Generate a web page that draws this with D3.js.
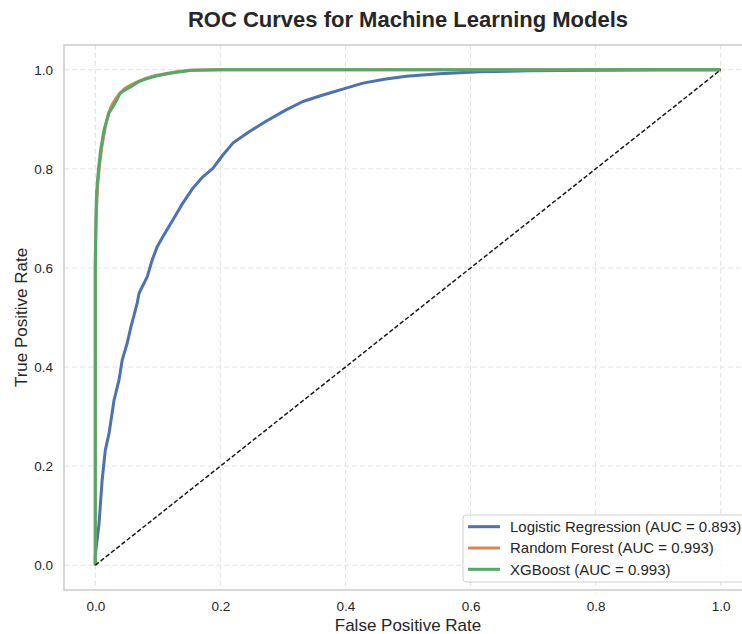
<!DOCTYPE html>
<html>
<head>
<meta charset="utf-8">
<script src="https://cdn.jsdelivr.net/npm/d3@7"></script>
<style>
body { margin: 0; background: #fff; }
text { font-family: "Liberation Sans", Arial, sans-serif; fill: #262626; }
</style>
</head>
<body>
<div id="chart"></div>
<script>
var width = 742;
var height = 634;

// values
var lrFpr = [0, 0.0, 0.006, 0.011, 0.016, 0.022, 0.030, 0.038, 0.043, 0.051, 0.057, 0.062, 0.067, 0.070, 0.083, 0.091, 0.099, 0.108, 0.124, 0.140, 0.156, 0.172, 0.188, 0.204, 0.220, 0.246, 0.273, 0.305, 0.332, 0.364, 0.401, 0.428, 0.462, 0.497, 0.550, 0.614, 0.694, 0.80, 0.90, 1.0];
var lrTpr = [0, 0.02, 0.084, 0.172, 0.232, 0.266, 0.333, 0.374, 0.414, 0.448, 0.481, 0.505, 0.529, 0.549, 0.582, 0.616, 0.643, 0.663, 0.697, 0.731, 0.761, 0.784, 0.801, 0.828, 0.852, 0.875, 0.896, 0.919, 0.936, 0.949, 0.963, 0.973, 0.981, 0.987, 0.992, 0.996, 0.998, 0.999, 1.0, 1.0];

var rfFpr = [0, 0, 0.002, 0.004, 0.007, 0.011, 0.016, 0.021, 0.027, 0.032, 0.039, 0.047, 0.058, 0.070, 0.082, 0.095, 0.112, 0.130, 0.150, 0.2, 0.5, 1.0];
var rfTpr = [0, 0.62, 0.72, 0.77, 0.81, 0.848, 0.884, 0.912, 0.930, 0.940, 0.952, 0.962, 0.970, 0.977, 0.983, 0.988, 0.992, 0.996, 0.999, 1.0, 1.0, 1.0];

var xgbFpr = [0, 0, 0.001, 0.002, 0.005, 0.0085, 0.014, 0.022, 0.028, 0.033, 0.040, 0.049, 0.057, 0.068, 0.078, 0.090, 0.099, 0.115, 0.130, 0.155, 0.2, 0.5, 1.0];
var xgbTpr = [0, 0.60, 0.70, 0.751, 0.798, 0.838, 0.879, 0.913, 0.925, 0.936, 0.953, 0.960, 0.966, 0.975, 0.980, 0.985, 0.988, 0.992, 0.995, 0.999, 1.0, 1.0, 1.0];

var modelNames = ["Logistic Regression (AUC = 0.893)", "Random Forest (AUC = 0.993)", "XGBoost (AUC = 0.993)"];
var modelColors = ["#4C72B0", "#DD8452", "#55A868"];
var tickValues = [0, 0.2, 0.4, 0.6, 0.8, 1.0];

var series = [
    { name: modelNames[0], color: modelColors[0], fpr: lrFpr, tpr: lrTpr },
    { name: modelNames[1], color: modelColors[1], fpr: rfFpr, tpr: rfTpr },
    { name: modelNames[2], color: modelColors[2], fpr: xgbFpr, tpr: xgbTpr }
];

// plot box (right side runs past the window, as in the reference)
var pLeft = 64, pRight = 752, pTop = 45, pBottom = 590;

var xScale = d3.scaleLinear().domain([-0.05, 1.05]).range([pLeft, pRight]);
var yScale = d3.scaleLinear().domain([-0.05, 1.05]).range([pBottom, pTop]);

var svg = d3.select("#chart")
    .append("svg")
    .attr("width", width)
    .attr("height", height)
    .style("display", "block");

// grid
svg.append("g")
    .selectAll("line")
    .data(tickValues)
    .enter()
    .append("line")
    .attr("x1", d => xScale(d)).attr("x2", d => xScale(d))
    .attr("y1", pTop).attr("y2", pBottom)
    .attr("stroke", "#e2e2e2").attr("stroke-width", 1)
    .attr("stroke-dasharray", "5,3");

svg.append("g")
    .selectAll("line")
    .data(tickValues)
    .enter()
    .append("line")
    .attr("x1", pLeft).attr("x2", pRight)
    .attr("y1", d => yScale(d)).attr("y2", d => yScale(d))
    .attr("stroke", "#e2e2e2").attr("stroke-width", 1)
    .attr("stroke-dasharray", "5,3");

// axes (labels only, no tick marks)
var xAxis = d3.axisBottom(xScale).tickValues(tickValues).tickFormat(d3.format(".1f")).tickSize(0).tickPadding(11);
var yAxis = d3.axisLeft(yScale).tickValues(tickValues).tickFormat(d3.format(".1f")).tickSize(0).tickPadding(11);

var gx = svg.append("g").attr("transform", "translate(0," + pBottom + ")").call(xAxis);
var gy = svg.append("g").attr("transform", "translate(" + pLeft + ",0)").call(yAxis);
[gx, gy].forEach(g => {
    g.select(".domain").remove();
    g.selectAll("text")
        .style("font-family", "'Liberation Sans', Arial, sans-serif")
        .style("font-size", "13.5px")
        .attr("fill", "#262626");
});

// frame
svg.append("rect")
    .attr("x", pLeft).attr("y", pTop)
    .attr("width", pRight - pLeft).attr("height", pBottom - pTop)
    .attr("fill", "none").attr("stroke", "#cccccc").attr("stroke-width", 1.5);

// curves
var line = d3.line()
    .x(d => xScale(d[0]))
    .y(d => yScale(d[1]));

svg.append("g")
    .selectAll("path")
    .data(series)
    .enter()
    .append("path")
    .attr("d", s => line(d3.zip(s.fpr, s.tpr)))
    .attr("fill", "none")
    .attr("stroke", s => s.color)
    .attr("stroke-width", 3)
    .attr("stroke-linejoin", "round");

// chance line
svg.append("path")
    .attr("d", line([[0, 0], [1, 1]]))
    .attr("fill", "none")
    .attr("stroke", "#1a1a1a")
    .attr("stroke-width", 1.5)
    .attr("stroke-dasharray", "4.5,2.2");

// title and axis labels
svg.append("text")
    .attr("x", (pLeft + pRight) / 2).attr("y", 27)
    .attr("text-anchor", "middle")
    .style("font-size", "22px").style("font-weight", "bold")
    .text("ROC Curves for Machine Learning Models");

svg.append("text")
    .attr("x", (pLeft + pRight) / 2).attr("y", 631)
    .attr("text-anchor", "middle")
    .style("font-size", "17px")
    .text("False Positive Rate");

svg.append("text")
    .attr("transform", "translate(27," + ((pTop + pBottom) / 2) + ") rotate(-90)")
    .attr("text-anchor", "middle")
    .style("font-size", "17px")
    .text("True Positive Rate");

// legend
var legend = svg.append("g").attr("transform", "translate(463,515)");
legend.append("rect")
    .attr("width", 300).attr("height", 67)
    .attr("rx", 3)
    .attr("fill", "#fff").attr("fill-opacity", 0.8)
    .attr("stroke", "#d0d0d0").attr("stroke-width", 1);

var rows = legend.selectAll("g.row")
    .data(series)
    .enter()
    .append("g")
    .attr("class", "row")
    .attr("transform", (d, i) => "translate(0," + (11.7 + i * 21.3) + ")");

rows.append("line")
    .attr("x1", 5).attr("x2", 37)
    .attr("stroke", d => d.color).attr("stroke-width", 3);

rows.append("text")
    .attr("x", 47).attr("dy", "0.36em")
    .style("font-size", "15px")
    .text(d => d.name);
</script>
</body>
</html>
